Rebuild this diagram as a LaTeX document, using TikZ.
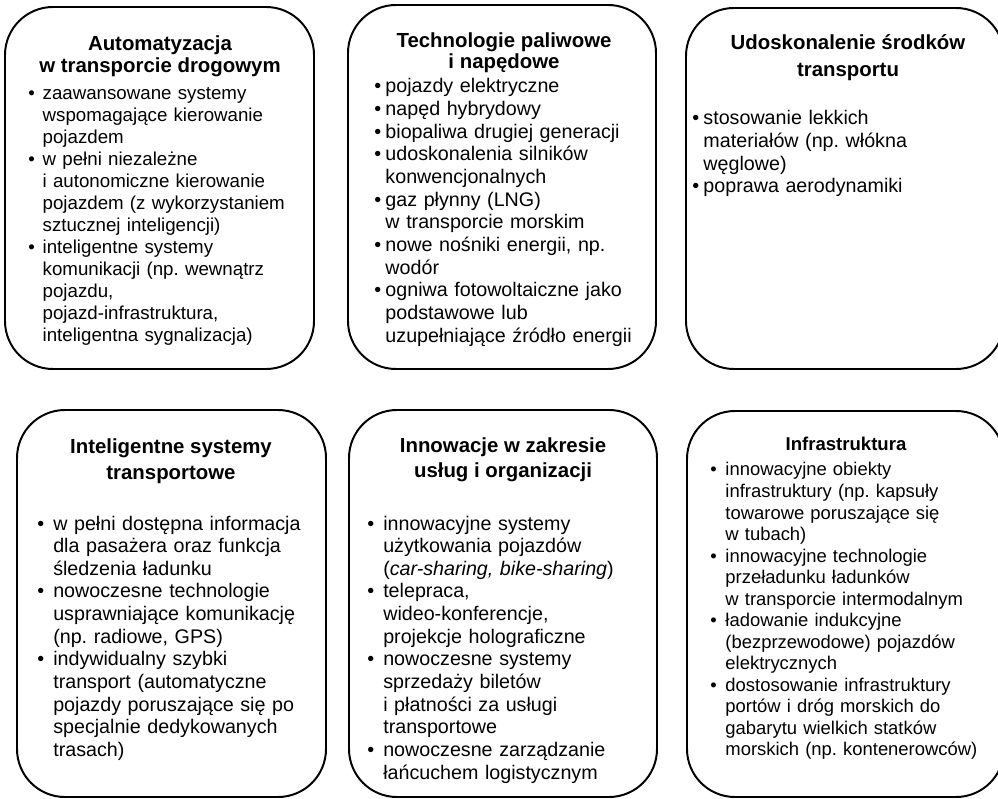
\documentclass[tikz,border=0pt]{standalone}
\usepackage{fontspec}
\setmainfont{Liberation Sans}
\usepackage{tikz}

\newlength{\bind}
\newcommand{\bitem}[1]{\noindent\hangindent=\bind\hangafter=1\makebox[\bind][l]{\textbullet}{\let\\\newline #1}\par}

\begin{document}
\frenchspacing
\begin{tikzpicture}[x=0.025cm,y=-0.025cm]

\def\lwbox{1.4pt}
\def\rbox{1.2cm}
\tikzset{
box/.style = {draw=black,line width=\lwbox,rounded corners=\rbox},
ttl/.style = {align=center,inner sep=0pt,anchor=base,font=\bfseries\fontsize{14.5}{16.3}\selectfont},
lst/.style = {text width=7.6cm,align=left,inner sep=0pt,anchor=base west,
              font=\fontsize{14}{16.1}\selectfont,execute at begin node={\setlength{\bind}{#1}}}
}

\clip (0,0) rectangle (998,799);

% upper row
\draw[box] (5,7) rectangle (314,369);
\draw[box] (348,5) rectangle (656,369);
\draw[box] (686,8) rectangle (1004,369);

% lower row
\draw[box] (17,410) rectangle (326,797);
\draw[box] (349,410) rectangle (657,797);
\draw[box] (687,411) rectangle (1004,797);

% titles sit on the baseline of their last line
\node[ttl] (t1) at (160,73) {Automatyzacja\\ w transporcie drogowym};
\node[lst=0.36cm,font=\fontsize{13.3}{15.6}\selectfont] (l1) at (28,100) {%
\bitem{zaawansowane systemy\\ wspomagające kierowanie\\ pojazdem}%
\bitem{w pełni niezależne\\ i autonomiczne kierowanie\\ pojazdem (z wykorzystaniem\\ sztucznej inteligencji)}%
\bitem{inteligentne systemy\\ komunikacji (np. wewnątrz\\ pojazdu,\\ pojazd-infrastruktura,\\ inteligentna sygnalizacja)}};

\node[ttl] (t2) at (504,69) {Technologie paliwowe\\[-1pt] i napędowe};
\node[lst=0.28cm] (l2) at (374,93) {%
\bitem{pojazdy elektryczne}%
\bitem{napęd hybrydowy}%
\bitem{biopaliwa drugiej generacji}%
\bitem{udoskonalenia silników\\ konwencjonalnych}%
\bitem{gaz płynny (LNG)\\ w transporcie morskim}%
\bitem{nowe nośniki energii, np.\\ wodór}%
\bitem{ogniwa fotowoltaiczne jako\\ podstawowe lub\\ uzupełniające źródło energii}};

\node[ttl] (t3) at (848,77) {Udoskonalenie środków\\[3pt] transportu};
\node[lst=0.28cm] (l3) at (692,125) {%
\bitem{stosowanie lekkich\\ materiałów (np. włókna\\ węglowe)}%
\bitem{poprawa aerodynamiki}};

\node[ttl] (t4) at (171,479) {Inteligentne systemy\\[2pt] transportowe};
\node[lst=0.4cm] (l4) at (37,530) {%
\bitem{w pełni dostępna informacja\\ dla pasażera oraz funkcja\\ śledzenia ładunku}%
\bitem{nowoczesne technologie\\ usprawniające komunikację\\ (np. radiowe, GPS)}%
\bitem{indywidualny szybki\\ transport (automatyczne\\ pojazdy poruszające się po\\ specjalnie dedykowanych\\ trasach)}};

\node[ttl] (t5) at (503,477) {Innowacje w zakresie\\[1pt] usług i organizacji};
\node[lst=0.4cm] (l5) at (367,530) {%
\bitem{innowacyjne systemy\\ użytkowania pojazdów\\ (\textit{car-sharing, bike-sharing})}%
\bitem{telepraca,\\ wideo-konferencje,\\ projekcje holograficzne}%
\bitem{nowoczesne systemy\\ sprzedaży biletów\\ i płatności za usługi\\ transportowe}%
\bitem{nowoczesne zarządzanie\\ łańcuchem logistycznym}};

\node[ttl,font=\bfseries\fontsize{13.2}{15}\selectfont] (t6) at (846,450) {Infrastruktura};
\node[lst=0.38cm,font=\fontsize{13.1}{15.3}\selectfont] (l6) at (710,476) {%
\bitem{innowacyjne obiekty\\ infrastruktury (np. kapsuły\\ towarowe poruszające się\\ w tubach)}%
\bitem{innowacyjne technologie\\ przeładunku ładunków\\ w transporcie intermodalnym}%
\bitem{ładowanie indukcyjne\\ (bezprzewodowe) pojazdów\\ elektrycznych}%
\bitem{dostosowanie infrastruktury\\ portów i dróg morskich do\\ gabarytu wielkich statków\\ morskich (np. kontenerowców)}};

\end{tikzpicture}
\end{document}
